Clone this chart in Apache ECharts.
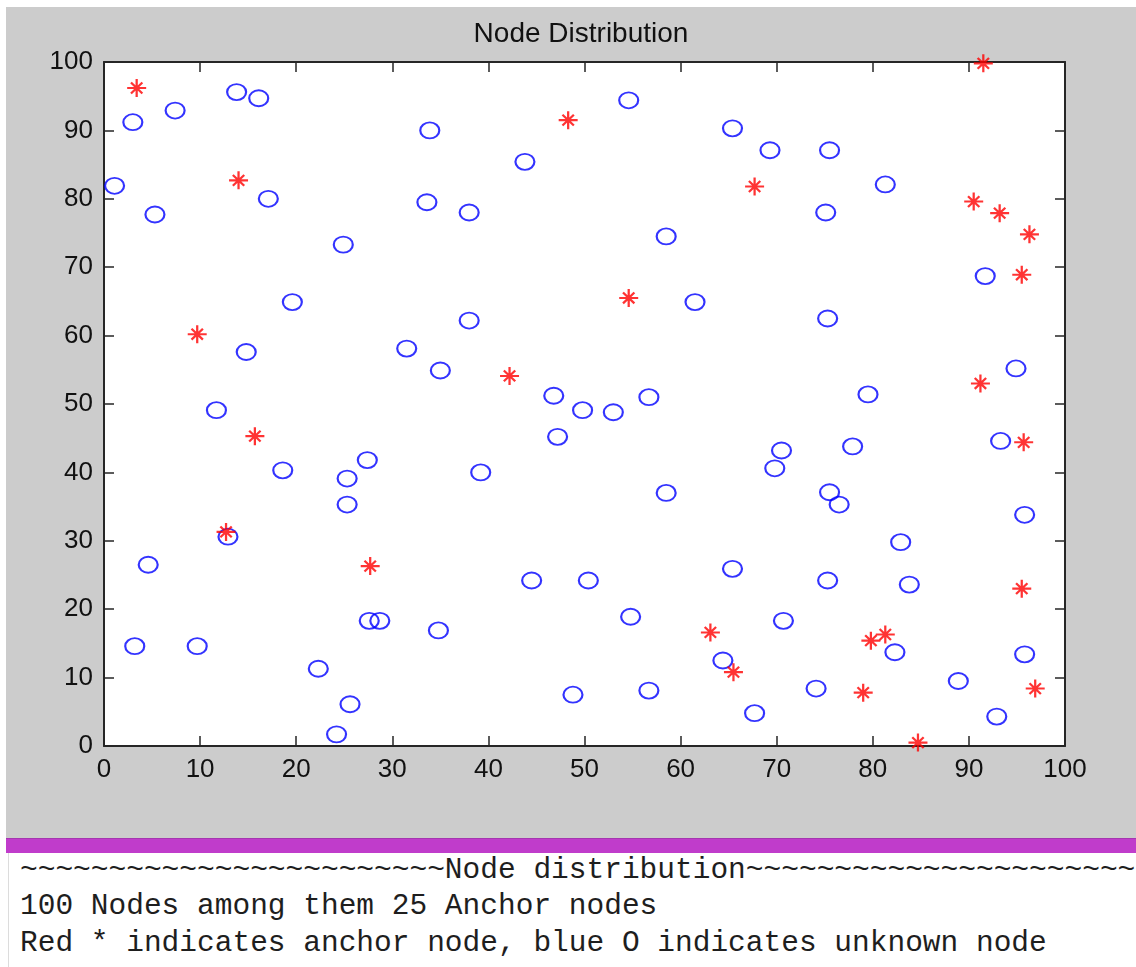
<!DOCTYPE html>
<html lang="en">

<head>
  <meta charset="UTF-8">
  <title>Node Distribution</title>
  <style>
    html,body {
      width:100%;
      height:100%;
      margin: 0;
      background: #fff;
      overflow: hidden;
    }
    #chart {
      position: absolute;
      left: 6px;
      top: 7px;
      width: 1130px;
      height: 831px;
      background: #cccccc;
    }
    #bar {
      position: absolute;
      left: 6px;
      top: 838px;
      width: 1130px;
      height: 15px;
      background: #c03ccb;
      border-top: 1px solid #a636b0;
      box-sizing: border-box;
    }
    #console {
      position: absolute;
      left: 8px;
      top: 853px;
      width: 1128px;
      height: 114px;
      border-left: 1px solid #dcdcdc;
      overflow: hidden;
    }
    #console pre {
      margin: 0;
      position: absolute;
      left: 11px;
      top: -1px;
      font-family: "Liberation Mono", "Courier New", monospace;
      font-size: 29.5px;
      line-height: 36.4px;
      color: #1e1e1e;
      white-space: pre;
    }
  </style>
</head>

<body>
  <div id="chart"></div>
  <div id="bar"></div>
  <div id="console"><pre id="log"></pre></div>
  <script src="https://cdn.jsdelivr.net/npm/echarts@6/dist/echarts.min.js"></script>
  <script>
    // anchor nodes (red *)
    var anchorX = [3.4, 14.0, 9.7, 15.7, 12.7, 27.7, 48.3, 54.6, 42.2, 67.7, 63.1, 65.5, 91.5,
      90.5, 93.2, 96.3, 95.5, 91.2, 95.7, 95.5, 96.9, 79.8, 81.3, 79.0, 84.7];
    var anchorY = [96.2, 82.7, 60.2, 45.3, 31.3, 26.3, 91.5, 65.5, 54.1, 81.8, 16.6, 10.8, 99.8,
      79.6, 77.9, 74.8, 68.9, 53.0, 44.4, 23.0, 8.4, 15.4, 16.3, 7.8, 0.5];

    // unknown nodes (blue O)
    var unknownX = [3.0, 7.4, 13.8, 16.1, 1.1, 5.3, 17.1, 24.9, 19.6, 14.8, 31.5,
      33.9, 33.6, 38.0, 43.8, 54.6, 65.4, 58.5, 61.5, 38.0, 35.0, 46.8, 56.7,
      49.8, 53.0, 47.2, 39.2, 58.5, 44.5, 50.4, 65.4, 54.8, 34.8, 64.4, 48.8, 56.7,
      11.7, 18.6, 27.4, 25.3, 25.3, 12.9, 4.6, 27.6, 28.7, 3.2, 9.7, 22.3, 25.6, 24.2,
      69.3, 75.5, 81.3, 75.1, 91.7, 75.3, 94.9, 79.5,
      70.5, 69.8, 77.9, 93.3, 75.5, 76.5, 95.8, 82.9, 75.3, 83.8, 70.7, 82.3, 95.8, 88.9, 74.1, 92.9, 67.7];
    var unknownY = [91.2, 92.9, 95.6, 94.7, 81.9, 77.7, 80.0, 73.3, 64.9, 57.6, 58.1,
      90.0, 79.5, 78.0, 85.4, 94.4, 90.3, 74.5, 64.9, 62.2, 54.9, 51.2, 51.0,
      49.1, 48.8, 45.2, 40.0, 37.0, 24.2, 24.2, 25.9, 18.9, 16.9, 12.5, 7.5, 8.1,
      49.1, 40.3, 41.8, 39.1, 35.3, 30.6, 26.5, 18.3, 18.3, 14.6, 14.6, 11.3, 6.1, 1.7,
      87.1, 87.1, 82.1, 78.0, 68.7, 62.5, 55.2, 51.4,
      43.2, 40.6, 43.8, 44.6, 37.1, 35.3, 33.8, 29.8, 24.2, 23.6, 18.3, 13.7, 13.4, 9.5, 8.4, 4.3, 4.8];

    var logLines = [
      '~~~~~~~~~~~~~~~~~~~~~~~~Node distribution~~~~~~~~~~~~~~~~~~~~~~~~',
      '100 Nodes among them 25 Anchor nodes',
      'Red * indicates anchor node, blue O indicates unknown node'
    ];
    document.getElementById('log').textContent = logLines.join('\n');

    function pairs(xs, ys) {
      return xs.map(function (x, i) { return [x, ys[i]]; });
    }

    var axisColor = '#262626';
    var labelStyle = {
      fontFamily: 'Liberation Sans',
      fontSize: 26,
      color: '#111',
      margin: 11
    };

    function makeAxis(pos, main) {
      return {
        type: 'value',
        position: pos,
        min: 0,
        max: 100,
        interval: 10,
        axisLine: { show: true, onZero: false, lineStyle: { color: axisColor, width: 2 } },
        axisTick: { show: true, inside: true, length: 10, lineStyle: { color: axisColor, width: 1.5 } },
        axisLabel: main ? labelStyle : { show: false },
        splitLine: { show: false }
      };
    }

    var myChart = echarts.init(document.getElementById('chart'));
    var option = {
      animation: false,
      backgroundColor: '#cccccc',
      title: {
        text: 'Node Distribution',
        left: 570,
        top: 8,
        textAlign: 'center',
        textStyle: {
          fontFamily: 'Liberation Sans',
          fontSize: 28,
          fontWeight: 'normal',
          color: '#111'
        }
      },
      grid: {
        left: 98,
        top: 55,
        width: 961,
        height: 684,
        show: true,
        backgroundColor: '#ffffff',
        borderWidth: 0
      },
      xAxis: [makeAxis('bottom', true), makeAxis('top', false)],
      yAxis: [makeAxis('left', true), makeAxis('right', false)],
      series: [{
        name: 'unknown',
        type: 'scatter',
        symbol: 'circle',
        symbolSize: [19, 16],
        itemStyle: { color: 'transparent', borderColor: '#0000ff', borderWidth: 2 },
        data: pairs(unknownX, unknownY)
      }, {
        name: 'anchor',
        type: 'scatter',
        // MATLAB '*' marker: a plus with shorter diagonals
        symbol: 'path://M0,10 L20,10 M10,0 L10,20 M4,4 L16,16 M4,16 L16,4',
        symbolSize: [19, 18],
        itemStyle: { color: 'transparent', borderColor: '#ff0000', borderWidth: 2.2 },
        data: pairs(anchorX, anchorY)
      }]
    };

    myChart.setOption(option);
  </script>
</body>

</html>
